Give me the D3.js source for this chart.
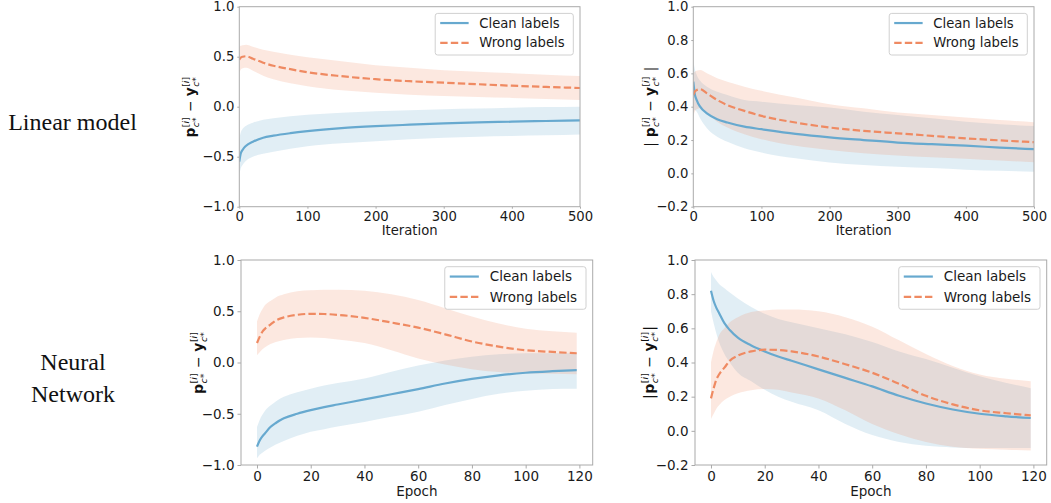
<!DOCTYPE html>
<html>
<head>
<meta charset="utf-8">
<script src="https://cdn.jsdelivr.net/npm/d3@7"></script>
<style>
  body { margin: 0; background: #fff; }
  svg { display: block; }
  .tick text { font-family: "DejaVu Sans", sans-serif; fill: #1a1a1a; }
</style>
</head>
<body>
<div id="chart"></div>
<script>
// ---- data ----
const iterations = [0, 2, 5, 10, 20, 35, 50, 75, 100, 150, 200, 250, 300, 350, 400, 450, 500];
const epochs = [0, 1, 2, 3, 5, 7, 10, 15, 20, 25, 30, 40, 50, 60, 70, 80, 90, 100, 110, 119];

// linear model, signed difference
const linCleanMean = [-0.55, -0.47, -0.43, -0.39, -0.35, -0.31, -0.29, -0.265, -0.245, -0.215, -0.195, -0.18, -0.167, -0.157, -0.15, -0.143, -0.137];
const linCleanHi = [-0.32, -0.26, -0.22, -0.19, -0.16, -0.13, -0.115, -0.095, -0.08, -0.06, -0.045, -0.035, -0.025, -0.018, -0.01, -0.004, 0.0];
const linCleanLo = [-0.68, -0.62, -0.58, -0.54, -0.5, -0.47, -0.45, -0.42, -0.395, -0.365, -0.345, -0.325, -0.31, -0.3, -0.292, -0.285, -0.277];
const linWrongMean = [0.47, 0.49, 0.5, 0.505, 0.48, 0.44, 0.41, 0.375, 0.345, 0.305, 0.275, 0.255, 0.24, 0.225, 0.21, 0.198, 0.187];
const linWrongHi = [0.6, 0.61, 0.615, 0.62, 0.6, 0.57, 0.55, 0.52, 0.495, 0.455, 0.415, 0.39, 0.365, 0.35, 0.335, 0.32, 0.307];
const linWrongLo = [0.34, 0.37, 0.385, 0.39, 0.36, 0.31, 0.275, 0.235, 0.205, 0.165, 0.14, 0.12, 0.107, 0.097, 0.088, 0.077, 0.067];

// linear model, absolute difference (clean labels)
const linAbsCleanMean = [0.55, 0.48, 0.44, 0.4, 0.36, 0.325, 0.305, 0.28, 0.265, 0.237, 0.216, 0.2, 0.185, 0.175, 0.166, 0.155, 0.145];
const linAbsCleanHi = [0.68, 0.63, 0.59, 0.555, 0.52, 0.49, 0.47, 0.44, 0.43, 0.41, 0.395, 0.37, 0.35, 0.33, 0.31, 0.295, 0.284];
const linAbsCleanLo = [0.36, 0.38, 0.37, 0.33, 0.27, 0.22, 0.19, 0.15, 0.125, 0.09, 0.065, 0.05, 0.04, 0.032, 0.022, 0.015, 0.01];

// neural network, signed difference
const nnCleanMean = [-0.82, -0.76, -0.72, -0.69, -0.63, -0.59, -0.545, -0.5, -0.465, -0.435, -0.41, -0.36, -0.31, -0.26, -0.205, -0.16, -0.125, -0.1, -0.085, -0.075];
const nnCleanHi = [-0.63, -0.56, -0.51, -0.47, -0.42, -0.38, -0.335, -0.29, -0.255, -0.225, -0.2, -0.155, -0.09, -0.03, 0.02, 0.055, 0.08, 0.09, 0.09, 0.09];
const nnCleanLo = [-0.935, -0.9, -0.88, -0.86, -0.83, -0.8, -0.765, -0.715, -0.675, -0.65, -0.625, -0.58, -0.53, -0.48, -0.415, -0.355, -0.305, -0.275, -0.258, -0.255];
const nnWrongMean = [0.19, 0.25, 0.3, 0.33, 0.37, 0.41, 0.44, 0.465, 0.475, 0.473, 0.465, 0.435, 0.39, 0.34, 0.275, 0.205, 0.155, 0.12, 0.103, 0.09];
const nnWrongHi = [0.4, 0.47, 0.52, 0.56, 0.6, 0.635, 0.665, 0.695, 0.705, 0.71, 0.71, 0.7, 0.665, 0.61, 0.53, 0.45, 0.38, 0.33, 0.305, 0.29];
const nnWrongLo = [0.07, 0.1, 0.13, 0.15, 0.18, 0.2, 0.22, 0.238, 0.245, 0.24, 0.225, 0.19, 0.12, 0.04, -0.02, -0.065, -0.093, -0.105, -0.11, -0.115];

// neural network, absolute difference (clean labels)
const nnAbsCleanMean = [0.82, 0.76, 0.72, 0.69, 0.63, 0.59, 0.545, 0.5, 0.465, 0.435, 0.41, 0.36, 0.31, 0.26, 0.205, 0.16, 0.125, 0.1, 0.085, 0.075];
const nnAbsCleanHi = [0.93, 0.9, 0.88, 0.86, 0.835, 0.81, 0.775, 0.725, 0.685, 0.655, 0.635, 0.6, 0.565, 0.52, 0.465, 0.42, 0.37, 0.32, 0.28, 0.25];
const nnAbsCleanLo = [0.7, 0.63, 0.57, 0.52, 0.45, 0.4, 0.34, 0.29, 0.24, 0.2, 0.17, 0.12, 0.04, -0.025, -0.065, -0.088, -0.097, -0.1, -0.1, -0.1];

const diffTicks = [-1.0, -0.5, 0.0, 0.5, 1.0];
const absTicks = [-0.2, 0.0, 0.2, 0.4, 0.6, 0.8, 1.0];
const iterTicks = [0, 100, 200, 300, 400, 500];
const epochTicks = [0, 20, 40, 60, 80, 100, 120];
const seriesNames = ["Clean labels", "Wrong labels"];
const rowNames = [["Linear model"], ["Neural", "Network"]];

// ---- drawing ----
const blue = "#67a9cf", red = "#ef8a62";
const width = 1051, height = 503;

const svg = d3.select("#chart").append("svg")
  .attr("width", width)
  .attr("height", height);

// row titles
svg.append("text")
  .attr("x", 72.5).attr("y", 130)
  .attr("text-anchor", "middle")
  .style("font-family", "'Liberation Serif', serif")
  .style("font-size", "24px")
  .style("fill", "#111")
  .text(rowNames[0][0]);
rowNames[1].forEach((t, i) => {
  svg.append("text")
    .attr("x", 73).attr("y", 370 + i * 31.7)
    .attr("text-anchor", "middle")
    .style("font-family", "'Liberation Serif', serif")
    .style("font-size", "24px")
    .style("fill", "#111")
    .text(t);
});

const panels = [
  { id: "p0", l: 239.3, r: 580, t: 6.7, b: 206.7, x: iterations, xd: [0, 500], yd: [-1, 1], xt: iterTicks, yt: diffTicks,
    xlab: "Iteration", xlabY: 235, abs: false, spaced: false, labX: 195, fs: 13.2, tick: 2, pad: 3,
    clean: [linCleanMean, linCleanLo, linCleanHi], wrong: [linWrongMean, linWrongLo, linWrongHi] },
  { id: "p1", l: 693.3, r: 1034, t: 6.7, b: 206.7, x: iterations, xd: [0, 500], yd: [-0.2, 1], xt: iterTicks, yt: absTicks,
    xlab: "Iteration", xlabY: 235, abs: true, spaced: true, labX: 655, fs: 13.2, tick: 2, pad: 3,
    clean: [linAbsCleanMean, linAbsCleanLo, linAbsCleanHi], wrong: [linWrongMean, linWrongLo, linWrongHi] },
  { id: "p2", l: 241, r: 592.7, t: 260, b: 465, x: epochs, xd: [-5.95, 124.95], yd: [-1, 1], xt: epochTicks, yt: diffTicks,
    xlab: "Epoch", xlabY: 496, abs: false, spaced: false, labX: 203, fs: 13.5, tick: 3.5, pad: 2.5,
    clean: [nnCleanMean, nnCleanLo, nnCleanHi], wrong: [nnWrongMean, nnWrongLo, nnWrongHi] },
  { id: "p3", l: 695, r: 1046.7, t: 260, b: 465, x: epochs, xd: [-5.95, 124.95], yd: [-0.2, 1], xt: epochTicks, yt: absTicks,
    xlab: "Epoch", xlabY: 496, abs: true, spaced: false, labX: 654, fs: 13.5, tick: 3.5, pad: 2.5,
    clean: [nnAbsCleanMean, nnAbsCleanLo, nnAbsCleanHi], wrong: [nnWrongMean, nnWrongLo, nnWrongHi] }
];

panels.forEach(p => {
  const x = d3.scaleLinear().domain(p.xd).range([p.l, p.r]);
  const y = d3.scaleLinear().domain(p.yd).range([p.b, p.t]);

  svg.append("clipPath").attr("id", "clip-" + p.id)
    .append("rect").attr("x", p.l).attr("y", p.t).attr("width", p.r - p.l).attr("height", p.b - p.t);

  const g = svg.append("g").attr("clip-path", "url(#clip-" + p.id + ")");

  const area = d3.area()
    .x((d, i) => x(p.x[i]))
    .y0(d => y(d[0]))
    .y1(d => y(d[1]))
    .curve(d3.curveMonotoneX);
  const line = d3.line()
    .x((d, i) => x(p.x[i]))
    .y(d => y(d))
    .curve(d3.curveMonotoneX);

  const series = [
    { m: p.clean, c: blue, dash: null },
    { m: p.wrong, c: red, dash: "7.4,3.2" }
  ];
  series.forEach(s => {
    g.append("path")
      .datum(s.m[1].map((lo, i) => [lo, s.m[2][i]]))
      .attr("d", area)
      .attr("fill", s.c)
      .attr("fill-opacity", 0.2);
  });
  series.forEach(s => {
    g.append("path")
      .datum(s.m[0])
      .attr("d", line)
      .attr("fill", "none")
      .attr("stroke", s.c)
      .attr("stroke-width", 2.2)
      .attr("stroke-dasharray", s.dash);
  });

  // axes
  const xa = svg.append("g").attr("transform", `translate(0,${p.b})`)
    .call(d3.axisBottom(x).tickValues(p.xt).tickFormat(d3.format("d")).tickSize(p.tick).tickPadding(p.pad));
  const ya = svg.append("g").attr("transform", `translate(${p.l},0)`)
    .call(d3.axisLeft(y).tickValues(p.yt).tickFormat(d3.format(".1f")).tickSize(p.tick).tickPadding(3));
  [xa, ya].forEach(a => {
    a.select(".domain").remove();
    a.selectAll(".tick line").attr("stroke", "#aaa");
    a.selectAll(".tick text").style("font-size", p.fs + "px");
  });

  svg.append("rect")
    .attr("x", p.l).attr("y", p.t)
    .attr("width", p.r - p.l).attr("height", p.b - p.t)
    .attr("fill", "none").attr("stroke", "#aaa").attr("stroke-width", 1);

  svg.append("text")
    .attr("x", (p.l + p.r) / 2)
    .attr("y", p.xlabY)
    .attr("text-anchor", "middle")
    .style("font-family", "'DejaVu Sans', sans-serif")
    .style("font-size", p.fs + "px")
    .style("fill", "#1a1a1a")
    .text(p.xlab);

  // y label: math text built from pieces
  const lab = svg.append("g")
    .attr("transform", `translate(${p.labX},${(p.t + p.b) / 2}) rotate(-90)`);
  const inner = lab.append("g");
  let cx = 0;
  const base = p.fs + 0.5, small = p.fs * 0.7;
  const put = (opts) => {
    const t = inner.append("text")
      .attr("x", cx).attr("y", opts.dy || 0)
      .style("font-family", "'DejaVu Sans', sans-serif")
      .style("font-size", (opts.size || base) + "px")
      .style("font-weight", opts.bold ? "bold" : "normal")
      .style("fill", "#111");
    opts.parts.forEach(pt => t.append("tspan").style("font-style", pt[1] ? "italic" : "normal").text(pt[0]));
    return t.node().getComputedTextLength();
  };
  const scripts = () => {
    const w1 = put({ parts: [["[", false], ["i", true], ["]", false]], size: small, dy: -6.5 });
    const w2 = put({ parts: [["c", true], ["*", false]], size: small, dy: 3.5 });
    cx += Math.max(w1, w2) + 1;
  };
  if (p.abs) cx += put({ parts: [[p.spaced ? "|\u00a0" : "|", false]] }) + 0.5;
  cx += put({ parts: [["p", false]], bold: true }) + 0.5;
  scripts();
  cx += put({ parts: [["\u00a0\u2212\u00a0", false]] });
  cx += put({ parts: [["y", false]], bold: true }) + 0.5;
  scripts();
  if (p.abs) cx += put({ parts: [[p.spaced ? "\u00a0|" : "|", false]] });
  inner.attr("transform", `translate(${-cx / 2},0)`);

  // legend
  const k = p.fs / 13;
  const lw = 136 * k, lh = 41 * k;
  const lx = p.r - 6.7 - lw, ly = p.t + 6.7;
  const leg = svg.append("g").attr("transform", `translate(${lx},${ly})`);
  leg.append("rect")
    .attr("width", lw).attr("height", lh).attr("rx", 2.5)
    .attr("fill", "#fff").attr("fill-opacity", 0.85)
    .attr("stroke", "#d0d0d0").attr("stroke-width", 1);
  series.forEach((s, i) => {
    const yy = (9.5 + i * 19.5) * k;
    leg.append("line")
      .attr("x1", 5).attr("x2", 5 + 28 * k)
      .attr("y1", yy).attr("y2", yy)
      .attr("stroke", s.c).attr("stroke-width", 2.2)
      .attr("stroke-dasharray", s.dash);
    leg.append("text")
      .attr("x", 5 + 38.5 * k).attr("y", yy)
      .attr("dy", "0.35em")
      .style("font-family", "'DejaVu Sans', sans-serif")
      .style("font-size", p.fs + "px")
      .style("fill", "#1a1a1a")
      .text(seriesNames[i]);
  });
});
</script>
</body>
</html>
